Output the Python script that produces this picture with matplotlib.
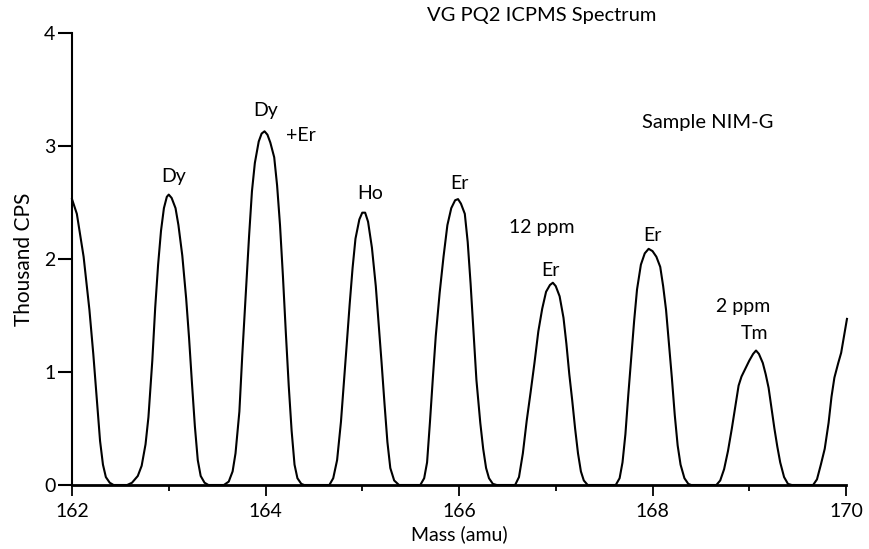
import matplotlib
matplotlib.use("Agg")
import matplotlib.pyplot as plt
from matplotlib.ticker import MultipleLocator

# traced spectrum (mass in amu, thousand CPS)
mass = [162.00, 162.05, 162.12, 162.18, 162.22, 162.26, 162.29, 162.32, 162.35, 162.39, 162.43,
        162.57, 162.62, 162.68, 162.72, 162.76, 162.79, 162.83, 162.86, 162.89, 162.92, 162.95,
        162.98, 163.00, 163.03, 163.07, 163.10, 163.14, 163.18, 163.21, 163.24, 163.27, 163.30,
        163.33, 163.37, 163.41,
        163.57, 163.62, 163.66, 163.69, 163.73, 163.76, 163.80, 163.83, 163.86, 163.89, 163.93,
        163.96, 163.99, 164.02, 164.05, 164.09, 164.12, 164.15, 164.18, 164.21, 164.24, 164.27,
        164.30, 164.33, 164.37, 164.40,
        164.66, 164.70, 164.74, 164.78, 164.81, 164.84, 164.87, 164.90, 164.93, 164.97, 165.00,
        165.03, 165.06, 165.10, 165.14, 165.17, 165.20, 165.23, 165.26, 165.29, 165.33, 165.38,
        165.60, 165.64, 165.67, 165.70, 165.73, 165.76, 165.80, 165.84, 165.88, 165.92, 165.96,
        165.99, 166.02, 166.06, 166.09, 166.12, 166.15, 166.18, 166.22, 166.25, 166.28, 166.31,
        166.35, 166.39,
        166.58, 166.62, 166.66, 166.70, 166.74, 166.78, 166.82, 166.86, 166.90, 166.94, 166.97,
        167.00, 167.04, 167.08, 167.11, 167.14, 167.17, 167.20, 167.23, 167.26, 167.29, 167.33,
        167.62, 167.66, 167.69, 167.72, 167.75, 167.78, 167.81, 167.84, 167.88, 167.92, 167.96,
        168.00, 168.04, 168.08, 168.11, 168.14, 168.17, 168.20, 168.23, 168.26, 168.29, 168.33,
        168.37, 168.40,
        168.66, 168.70, 168.74, 168.78, 168.82, 168.86, 168.89, 168.92, 168.96, 169.00, 169.04,
        169.07, 169.10, 169.14, 169.17, 169.20, 169.23, 169.26, 169.29, 169.32, 169.36, 169.40,
        169.44,
        169.66, 169.70, 169.74, 169.78, 169.82, 169.85, 169.88, 169.92, 169.95, 169.98, 170.01]
cps = [2.53, 2.40, 2.02, 1.55, 1.16, 0.72, 0.39, 0.18, 0.07, 0.02, 0.00,
       0.00, 0.02, 0.08, 0.17, 0.36, 0.60, 1.10, 1.57, 1.95, 2.25, 2.45,
       2.55, 2.57, 2.54, 2.45, 2.30, 2.03, 1.65, 1.30, 0.90, 0.52, 0.22,
       0.08, 0.02, 0.00,
       0.00, 0.03, 0.12, 0.28, 0.65, 1.15, 1.75, 2.20, 2.60, 2.85, 3.04,
       3.11, 3.13, 3.10, 3.03, 2.90, 2.65, 2.30, 1.85, 1.35, 0.88, 0.48,
       0.18, 0.06, 0.01, 0.00,
       0.00, 0.06, 0.22, 0.56, 0.90, 1.25, 1.60, 1.92, 2.18, 2.35, 2.41,
       2.41, 2.33, 2.10, 1.76, 1.42, 1.08, 0.72, 0.38, 0.15, 0.04, 0.00,
       0.00, 0.06, 0.20, 0.56, 0.95, 1.32, 1.70, 2.02, 2.30, 2.45, 2.52,
       2.53, 2.49, 2.40, 2.15, 1.78, 1.35, 0.93, 0.55, 0.32, 0.15, 0.06,
       0.01, 0.00,
       0.00, 0.07, 0.28, 0.57, 0.82, 1.08, 1.36, 1.56, 1.71, 1.77, 1.79,
       1.76, 1.67, 1.48, 1.25, 0.98, 0.75, 0.50, 0.28, 0.12, 0.04, 0.00,
       0.00, 0.06, 0.20, 0.45, 0.80, 1.12, 1.45, 1.73, 1.95, 2.05, 2.09,
       2.07, 2.02, 1.93, 1.76, 1.55, 1.25, 0.95, 0.62, 0.35, 0.18, 0.06,
       0.01, 0.00,
       0.00, 0.04, 0.14, 0.30, 0.50, 0.72, 0.88, 0.96, 1.03, 1.10, 1.16,
       1.19, 1.16, 1.08, 0.98, 0.86, 0.68, 0.50, 0.34, 0.20, 0.07, 0.01,
       0.00,
       0.00, 0.05, 0.18, 0.32, 0.55, 0.78, 0.95, 1.08, 1.17, 1.32, 1.47]

# annotations
label_text = ["Dy", "Dy", "+Er", "Ho", "Er", "12 ppm", "Er", "Er", "2 ppm", "Tm", "Sample NIM-G"]
label_x = [163.05, 164.0, 164.37, 165.08, 166.0, 166.86, 166.95, 168.0, 168.94, 169.05, 168.57]
label_y = [2.73, 3.31, 3.09, 2.58, 2.67, 2.28, 1.90, 2.21, 1.58, 1.34, 3.21]

xticks = [162, 164, 166, 168, 170]
yticks = [0, 1, 2, 3, 4]

plt.rcParams['font.family'] = ['Lato', 'DejaVu Sans']

fig = plt.figure(figsize=(8.69, 5.49), dpi=100)
ax = fig.add_axes([72/869, 1-485/549, (846-72)/869, (485-33)/549])

ax.plot(mass, cps, color='black', lw=1.5, clip_on=False, solid_joinstyle='round')

ax.set_xlim(162, 170)
ax.set_ylim(0, 4)
ax.set_xticks(xticks)
ax.set_yticks(yticks)
ax.xaxis.set_minor_locator(MultipleLocator(1))
ax.spines['top'].set_visible(False)
ax.spines['right'].set_visible(False)
ax.spines['left'].set_linewidth(1.5)
ax.spines['bottom'].set_linewidth(2.0)
ax.tick_params(axis='x', which='major', direction='out', length=8, width=1.3, labelsize=14, pad=5)
ax.tick_params(axis='x', which='minor', direction='out', length=4, width=1.3)
ax.tick_params(axis='y', which='major', direction='out', length=10, width=1.5, labelsize=14, pad=2)

ax.set_xlabel("Mass (amu)", fontsize=14, labelpad=4)
ax.set_ylabel("Thousand CPS", fontsize=15, labelpad=7)

for t, x, y in zip(label_text, label_x, label_y):
    ax.text(x, y, t, ha='center', va='center', fontsize=14.5 if t == "Sample NIM-G" else 14)

fig.text(542/869, 1-16/549, "VG PQ2 ICPMS Spectrum", ha='center', va='center', fontsize=14.5)

fig.savefig("out.png", dpi=100)
